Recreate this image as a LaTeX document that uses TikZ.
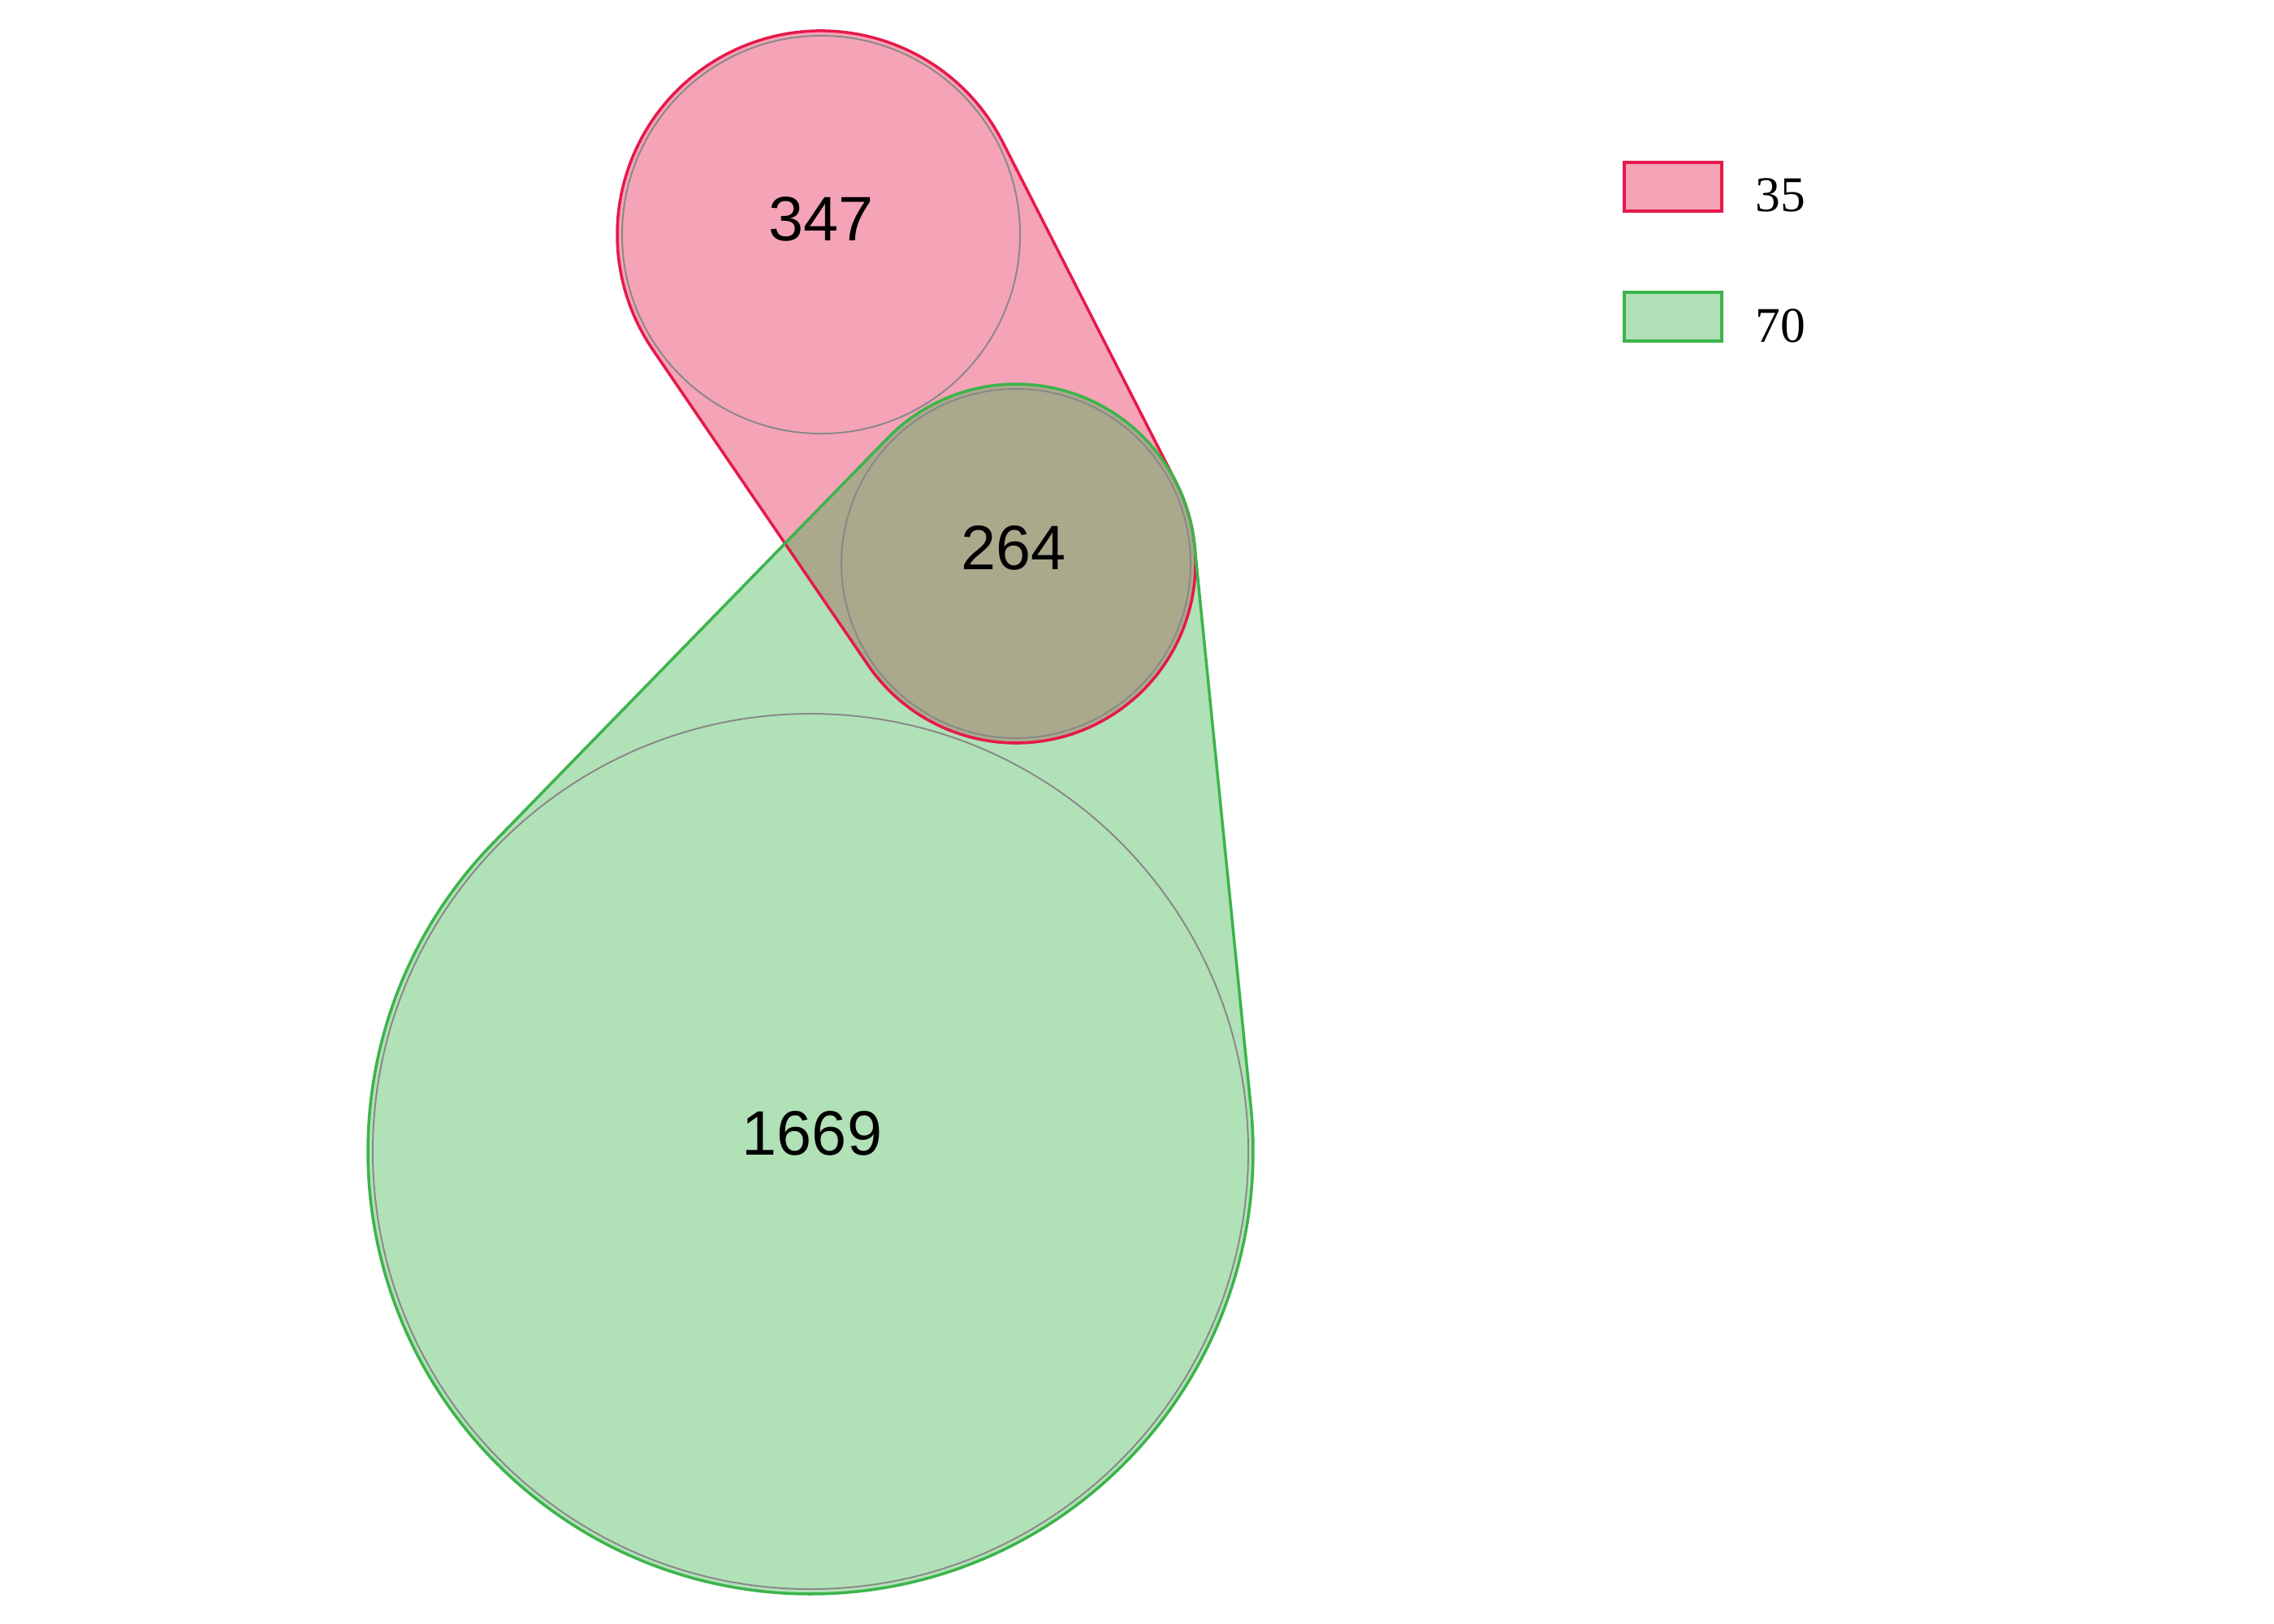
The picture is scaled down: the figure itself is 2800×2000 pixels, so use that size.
\documentclass[tikz,border=0pt]{standalone}
\usepackage{fontspec}
\setmainfont{Liberation Serif}
\newfontfamily\arialf{Liberation Sans}
\usetikzlibrary{calc}
\definecolor{setred}{RGB}{230,25,75}
\definecolor{setgreen}{RGB}{60,180,75}
\definecolor{ringgrey}{RGB}{136,136,136}
\begin{document}
\begin{tikzpicture}[x=0.01cm,y=-0.01cm,
  hullline/.style={line width=1pt, line join=round},
  ring/.style={draw=ringgrey, line width=0.55pt},
  count/.style={font=\arialf\fontsize{22}{26}\selectfont, inner sep=0pt, anchor=center},
  legbox/.style={line width=1.1pt, minimum width=1.2cm, minimum height=0.6cm, inner sep=0pt},
  legtext/.style={font=\fontsize{17.5}{20}\selectfont, inner sep=0pt, anchor=base west}]
\useasboundingbox (0,0) rectangle (2800,2000);
\coordinate (A) at (1011,289);
\coordinate (B) at (1251,694);
\coordinate (C) at (998,1418);
% pink hull fill
\fill[setred, fill opacity=0.4]
  ($(A)+(-27:251)$) arc[start angle=-27, end angle=-214.3, radius=251]
  -- ($(B)+(145.7:221)$) arc[start angle=145.7, end angle=-27, radius=221] -- cycle;
% green hull fill
\fill[setgreen, fill opacity=0.4]
  ($(B)+(-5.73:221)$) arc[start angle=-5.73, end angle=-135.74, radius=221]
  -- ($(C)+(224.26:545)$) arc[start angle=224.26, end angle=-5.73, radius=545] -- cycle;
% outlines
\draw[hullline, setred]
  ($(A)+(-27:251)$) arc[start angle=-27, end angle=-214.3, radius=251]
  -- ($(B)+(145.7:221)$) arc[start angle=145.7, end angle=-27, radius=221] -- cycle;
\draw[hullline, setgreen]
  ($(B)+(-5.73:221)$) arc[start angle=-5.73, end angle=-135.74, radius=221]
  -- ($(C)+(224.26:545)$) arc[start angle=224.26, end angle=-5.73, radius=545] -- cycle;
% circles
\draw[ring] (A) circle[radius=245];
\draw[ring] (B) circle[radius=215];
\draw[ring] (C) circle[radius=539];
% counts
\node[count] (n347) at (1011,270) {347};
\node[count] (n264) at (1248,675) {264};
\node[count] (n1669) at (1000,1396) {1669};
% legend
\node[legbox, draw=setred, fill=setred!40] (lr) at (2060,230) {};
\node[legbox, draw=setgreen, fill=setgreen!40] (lg) at (2060,390) {};
\node[legtext] (t35) at (2161,260) {35};
\node[legtext] (t70) at (2161,421.5) {70};
\end{tikzpicture}
\end{document}
